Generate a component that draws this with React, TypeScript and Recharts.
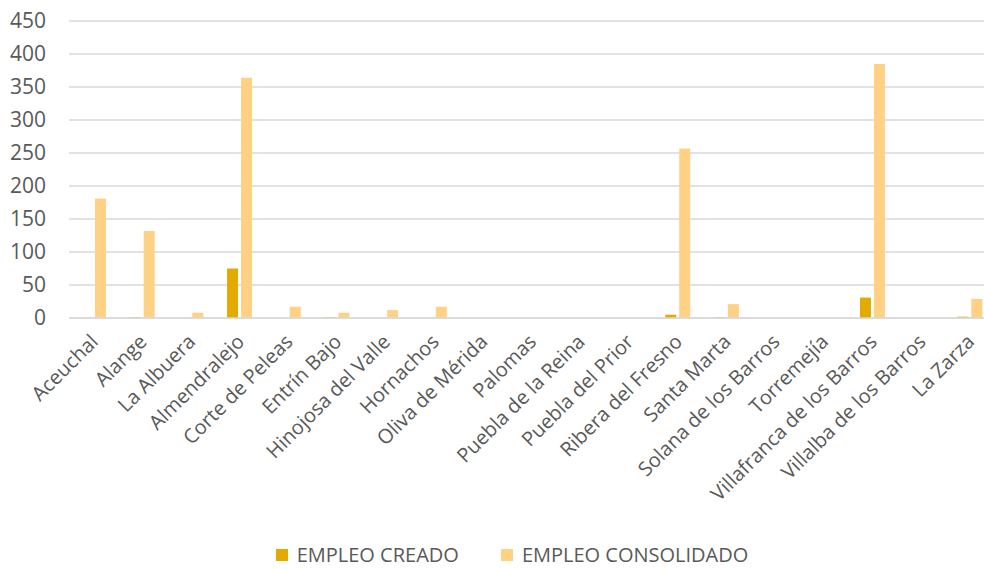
import { BarChart, Bar, XAxis, YAxis, CartesianGrid, Legend } from "recharts";

const municipios = [
  "Aceuchal", "Alange", "La Albuera", "Almendralejo", "Corte de Peleas",
  "Entrín Bajo", "Hinojosa del Valle", "Hornachos", "Oliva de Mérida", "Palomas",
  "Puebla de la Reina", "Puebla del Prior", "Ribera del Fresno", "Santa Marta",
  "Solana de los Barros", "Torremejía", "Villafranca de los Barros",
  "Villalba de los Barros", "La Zarza",
];
const creado = [0, 1, 0, 75, 0, 1, 0, 0, 0, 0, 0, 0, 5, 1, 0, 0, 31, 0, 2];
const consolidado = [181, 132, 8, 364, 17, 8, 12, 17, 0, 0, 1, 1, 257, 21, 0, 0, 385, 1, 29];
const yTicks = [0, 50, 100, 150, 200, 250, 300, 350, 400, 450];

const data = municipios.map((m, i) => ({ m, creado: creado[i], consolidado: consolidado[i] }));

const C_CREADO = "#E3AA00";
const C_CONS = "#FFD185";
const TXT = "#595959";
const FONT = "'Open Sans', sans-serif";

const XTick = ({ x, y, payload }: any) => (
  <text
    x={x + 6}
    y={y + 17}
    textAnchor="end"
    transform={`rotate(-45 ${x + 6} ${y + 17})`}
    fill={TXT}
    fontSize={20}
    fontFamily={FONT}
  >
    {payload.value}
  </text>
);

const LegendBox = () => (
  <div style={{ display: "flex", justifyContent: "center", fontFamily: FONT, fontSize: 20, color: TXT }}>
    {[
      { name: "EMPLEO CREADO", color: C_CREADO },
      { name: "EMPLEO CONSOLIDADO", color: C_CONS },
    ].map((it, i) => (
      <div key={it.name} style={{ display: "flex", alignItems: "center", marginLeft: i ? 42 : 0 }}>
        <span style={{ width: 12, height: 12, background: it.color, marginRight: 9, display: "inline-block" }} />
        <span>{it.name}</span>
      </div>
    ))}
  </div>
);

export default function App() {
  return (
    <div style={{ position: "absolute", left: 0, top: 0, width: 984, height: 569, overflow: "hidden", background: "#fff" }}>
      <BarChart
        width={1000}
        height={569}
        data={data}
        margin={{ top: 21, right: 6, left: 0, bottom: 0 }}
        barSize={11}
        barGap={3}
      >
        <CartesianGrid vertical={false} stroke="#d9d9d9" strokeWidth={1.5} />
        <XAxis
          dataKey="m"
          interval={0}
          height={251}
          axisLine={{ stroke: "#d9d9d9", strokeWidth: 1.5 }}
          tickLine={false}
          tick={<XTick />}
        />
        <YAxis
          width={69}
          domain={[0, 450]}
          ticks={yTicks}
          axisLine={false}
          tickLine={false}
          tickSize={0}
          tickMargin={23}
          tick={{ fill: TXT, fontSize: 21, fontFamily: FONT }}
        />
        <Legend
          verticalAlign="middle"
          align="center"
          wrapperStyle={{ top: 541, left: 0, width: 1024 }}
          content={<LegendBox />}
        />
        <Bar dataKey="creado" name="EMPLEO CREADO" fill={C_CREADO} isAnimationActive={false} />
        <Bar dataKey="consolidado" name="EMPLEO CONSOLIDADO" fill={C_CONS} isAnimationActive={false} />
      </BarChart>
    </div>
  );
}
